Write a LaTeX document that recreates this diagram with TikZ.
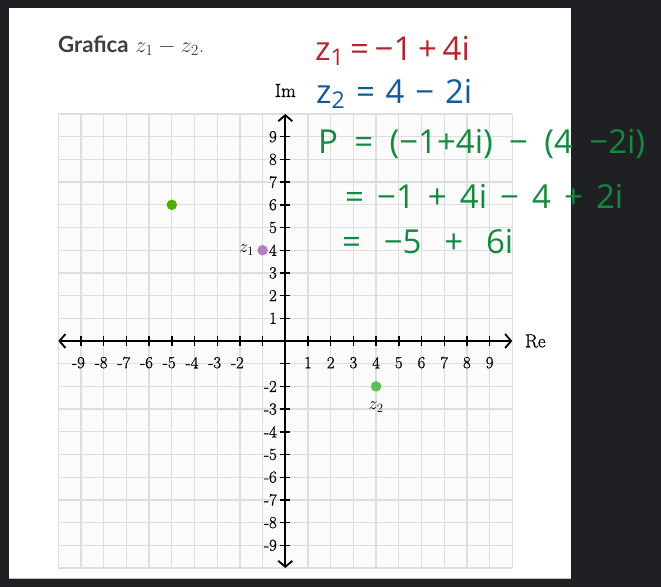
\RequirePackage{fix-cm}
\documentclass[tikz,border=0pt]{standalone}
\usepackage{fontspec}
\newfontfamily\lato{Lato}
\newfontfamily\hand{Open Sans}
\newfontfamily\lmthick{Latin Modern Roman}[FakeBold=0.9]
\usetikzlibrary{arrows.meta}
\definecolor{bgdark}{HTML}{1F2023}
\definecolor{gridfill}{HTML}{FBFBFB}
\definecolor{gridline}{HTML}{DEDEDE}
\definecolor{titlegray}{HTML}{3C3F42}
\definecolor{hred}{HTML}{B3262B}
\definecolor{hblue}{HTML}{10599A}
\definecolor{hgreen}{HTML}{138A3D}
\definecolor{ptgreen}{HTML}{4CAF00}
\definecolor{ptpurple}{HTML}{B27CC4}
\definecolor{ptgreenb}{HTML}{5BBF5B}
\begin{document}
\begin{tikzpicture}[x=1pt,y=-1pt,
  ticklab/.style={font=\lmthick\fontsize{16.8}{19}\selectfont, inner sep=0pt},
  axisline/.style={line width=1.8pt, {Straight Barb[length=6pt,width=14pt]}-{Straight Barb[length=6pt,width=14pt]}},
  tickmark/.style={line width=1.4pt},
  dot/.style={circle, inner sep=0pt, minimum size=10.5pt},
  hw/.style={font=\hand\fontsize{33}{36}\selectfont, inner sep=0pt, anchor=base west},
  axlab/.style={font=\lmthick\fontsize{19}{22}\selectfont, inner sep=0pt},
  ptlab/.style={font=\fontsize{18}{20}\selectfont, inner sep=0pt},
]
\useasboundingbox (0,0) rectangle (661,587);
\fill[bgdark] (0,0) rectangle (661,587);
\fill[white] (9,8) rectangle (571,578);
\draw[gray!50, line width=1pt] (9,578.5) -- (571,578.5);

\node[anchor=base west, inner sep=0pt, text=titlegray, font=\fontsize{22.2}{26}\selectfont] (title) at (58,52.5) {{\lato\bfseries Grafica} $z_1 - z_2$.};

\begin{scope}[shift={(285.3,341)}, x=22.7pt, y=22.7pt]
  \fill[gridfill] (-10,-10) rectangle (10,10);
  \draw[gridline, line width=1.3pt] (-10,-10) grid[step=1] (10,10);
  \coordinate (xl) at (-10,0);
  \coordinate (xr) at (10,0);
  \coordinate (yb) at (0,-10);
  \coordinate (yt) at (0,10);
  \draw[axisline] (xl) -- (xr);
  \draw[axisline] (yb) -- (yt);
  \foreach \i in {-9,...,-1,1,2,...,9} {
    \draw[tickmark] (\i,-0.22) -- (\i,0.22);
    \draw[tickmark] (-0.22,\i) -- (0.22,\i);
  }
  \foreach \i in {2,...,9} {
    \node[ticklab] at (-\i,-0.955) {\llap{-}\i};
    \node[ticklab, anchor=east] at (-0.366,-\i) {-\i};
  }
  \foreach \i in {1,...,9} {
    \node[ticklab] at (\i,-0.955) {\i};
    \node[ticklab, anchor=east] at (-0.366,\i) {\i};
  }
  \node[axlab, anchor=base] (im) at (0,10.75) {Im};
  \node[axlab, anchor=west] (re) at (10.55,0) {Re};
  \node[dot, fill=ptgreen] (p) at (-5,6) {};
  \node[dot, fill=ptpurple] (z1) at (-1,4) {};
  \node[dot, fill=ptgreenb] (z2) at (4,-2) {};
  \node[ptlab, anchor=east, xshift=-3pt] (z1lab) at (z1.west) {$z_1$};
  \node[ptlab] (z2lab) at (4,-2.9) {$z_2$};
\end{scope}

\node[hw, text=hred] (l1) at (315,60) {\makebox[152pt][s]{z\textsubscript{1} = −1 + 4i}};
\node[hw, text=hblue] (l2) at (316,103) {\makebox[156pt][s]{z\textsubscript{2} = 4 − 2i}};
\node[hw, text=hgreen] (l3) at (318,153) {\makebox[327pt][s]{P = (−1+4i) − (4 −2i)}};
\node[hw, text=hgreen] (l4) at (345,208) {\makebox[278pt][s]{= −1 + 4i − 4 + 2i}};
\node[hw, text=hgreen] (l5) at (342,253) {\makebox[171pt][s]{= −5 + 6i}};
\end{tikzpicture}
\end{document}
